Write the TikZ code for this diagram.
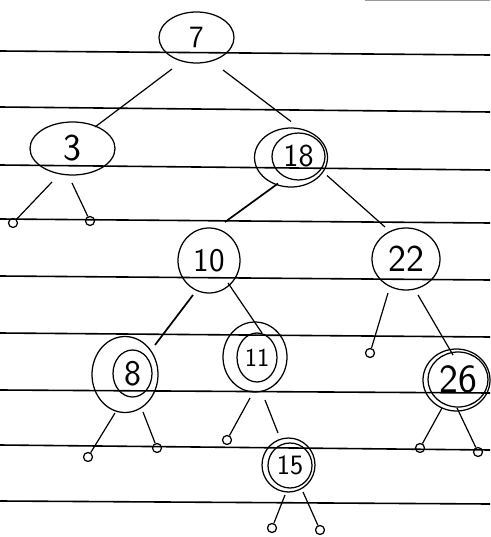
\documentclass[tikz,border=0pt]{standalone}
\usetikzlibrary{shapes.geometric}
\begin{document}
\begin{tikzpicture}[x=1pt,y=-1pt,
  ring/.style={draw, ellipse, line width=1.25pt, inner sep=0pt},
  keytxt/.style={font=\sffamily\fontsize{#1}{#1}\selectfont},
  nil/.style={draw, circle, line width=1.25pt, inner sep=0pt, minimum size=9pt},
  branch/.style={line width=1.2pt},
  ruled/.style={line width=1.6pt, black}]
\useasboundingbox (0,0) rectangle (490,537);
\fill[white] (0,0) rectangle (490,537);
% ruled paper lines
\draw[line width=0.8pt, black!40] (365,0.7) -- (490,0.7);
\draw[ruled] (0,51) -- (490,55);
\draw[ruled] (0,107) -- (490,112);
\draw[ruled] (0,165) -- (490,170);
\draw[ruled] (0,219) -- (490,223);
\draw[ruled] (0,276) -- (490,280);
\draw[ruled] (0,333) -- (490,337);
\draw[ruled] (0,390) -- (490,393);
\draw[ruled] (0,445) -- (490,450);
\draw[ruled] (0,501) -- (490,504);
% keys
\node[ring, minimum width=75pt, minimum height=51pt, keytxt=31] (n7) at (196.5,37.5) {7};
\node[ring, minimum width=85pt, minimum height=53pt, keytxt=38] (n3) at (72.5,148.5) {3};
\node[ring, minimum width=73pt, minimum height=59pt] (n18o) at (291,157.5) {};
\node[ring, minimum width=53pt, minimum height=47pt, keytxt=32] (n18) at (298.5,156.5) {18};
\node[ring, minimum width=62pt, minimum height=65pt, keytxt=33] (n10) at (209,260.5) {10};
\node[ring, minimum width=68pt, minimum height=62pt, keytxt=38] (n22) at (406,259) {22};
\node[ring, minimum width=66pt, minimum height=76pt] (n8o) at (125,374.5) {};
\node[ring, minimum width=39pt, minimum height=47pt, keytxt=36] (n8) at (132.5,373.5) {8};
\node[ring, minimum width=64pt, minimum height=70pt] (n11o) at (255,357) {};
\node[ring, minimum width=40pt, minimum height=49pt, keytxt=26] (n11) at (257,357.5) {11};
\node[ring, minimum width=67pt, minimum height=62pt] (n26o) at (456.5,380) {};
\node[ring, minimum width=60pt, minimum height=55pt, keytxt=40] (n26) at (458,379.5) {26};
\node[ring, minimum width=53pt, minimum height=54pt] (n15o) at (288.5,465) {};
\node[ring, minimum width=44pt, minimum height=45pt, keytxt=28] (n15) at (290,465.5) {15};
% empty leaves
\node[nil] (l3a) at (13,223) {};
\node[nil] (l3b) at (90,221) {};
\node[nil] (l22) at (370,353) {};
\node[nil] (l8a) at (88,457) {};
\node[nil] (l8b) at (157,448) {};
\node[nil] (l11) at (227,440) {};
\node[nil] (l26a) at (420,448) {};
\node[nil] (l26b) at (478,452) {};
\node[nil] (l15a) at (272,528) {};
\node[nil] (l15b) at (320,530) {};
% branches
\draw[branch] ([shift={(-24.5,31.5)}]n7.center) -- ([shift={(22.5,-21.5)}]n3.center);
\draw[branch] ([shift={(26.5,32.5)}]n7.center) -- ([shift={(0,-36)}]n18o.center);
\draw[branch] ([shift={(-20.5,33.5)}]n3.center) -- (l3a);
\draw[branch] ([shift={(-0.5,34.5)}]n3.center) -- (l3b);
\draw[branch, line width=1.7pt] ([shift={(-13,26)}]n18o.center) -- ([shift={(16,-38.5)}]n10.center);
\draw[branch] ([shift={(36,18)}]n18o.center) -- ([shift={(-21,-32)}]n22.center);
\draw[branch, line width=1.7pt] ([shift={(-16,34.5)}]n10.center) -- ([shift={(30,-29.5)}]n8o.center);
\draw[branch] ([shift={(19,22.5)}]n10.center) -- ([shift={(5,-24.5)}]n11.center);
\draw[branch] ([shift={(-18,34)}]n22.center) -- (l22);
\draw[branch] ([shift={(12,36)}]n22.center) -- ([shift={(-5,-24.5)}]n26.center);
\draw[branch] ([shift={(-10,38.5)}]n8o.center) -- (l8a);
\draw[branch] ([shift={(18,37.5)}]n8o.center) -- (l8b);
\draw[branch] ([shift={(-5,41)}]n11o.center) -- (l11);
\draw[branch] ([shift={(10,43)}]n11o.center) -- ([shift={(-10.5,-32)}]n15o.center);
\draw[branch] ([shift={(-14.5,28)}]n26o.center) -- (l26a);
\draw[branch] ([shift={(0.5,28)}]n26o.center) -- (l26b);
\draw[branch] ([shift={(-3.5,30)}]n15o.center) -- (l15a);
\draw[branch] ([shift={(14.5,27)}]n15o.center) -- (l15b);
\end{tikzpicture}
\end{document}
